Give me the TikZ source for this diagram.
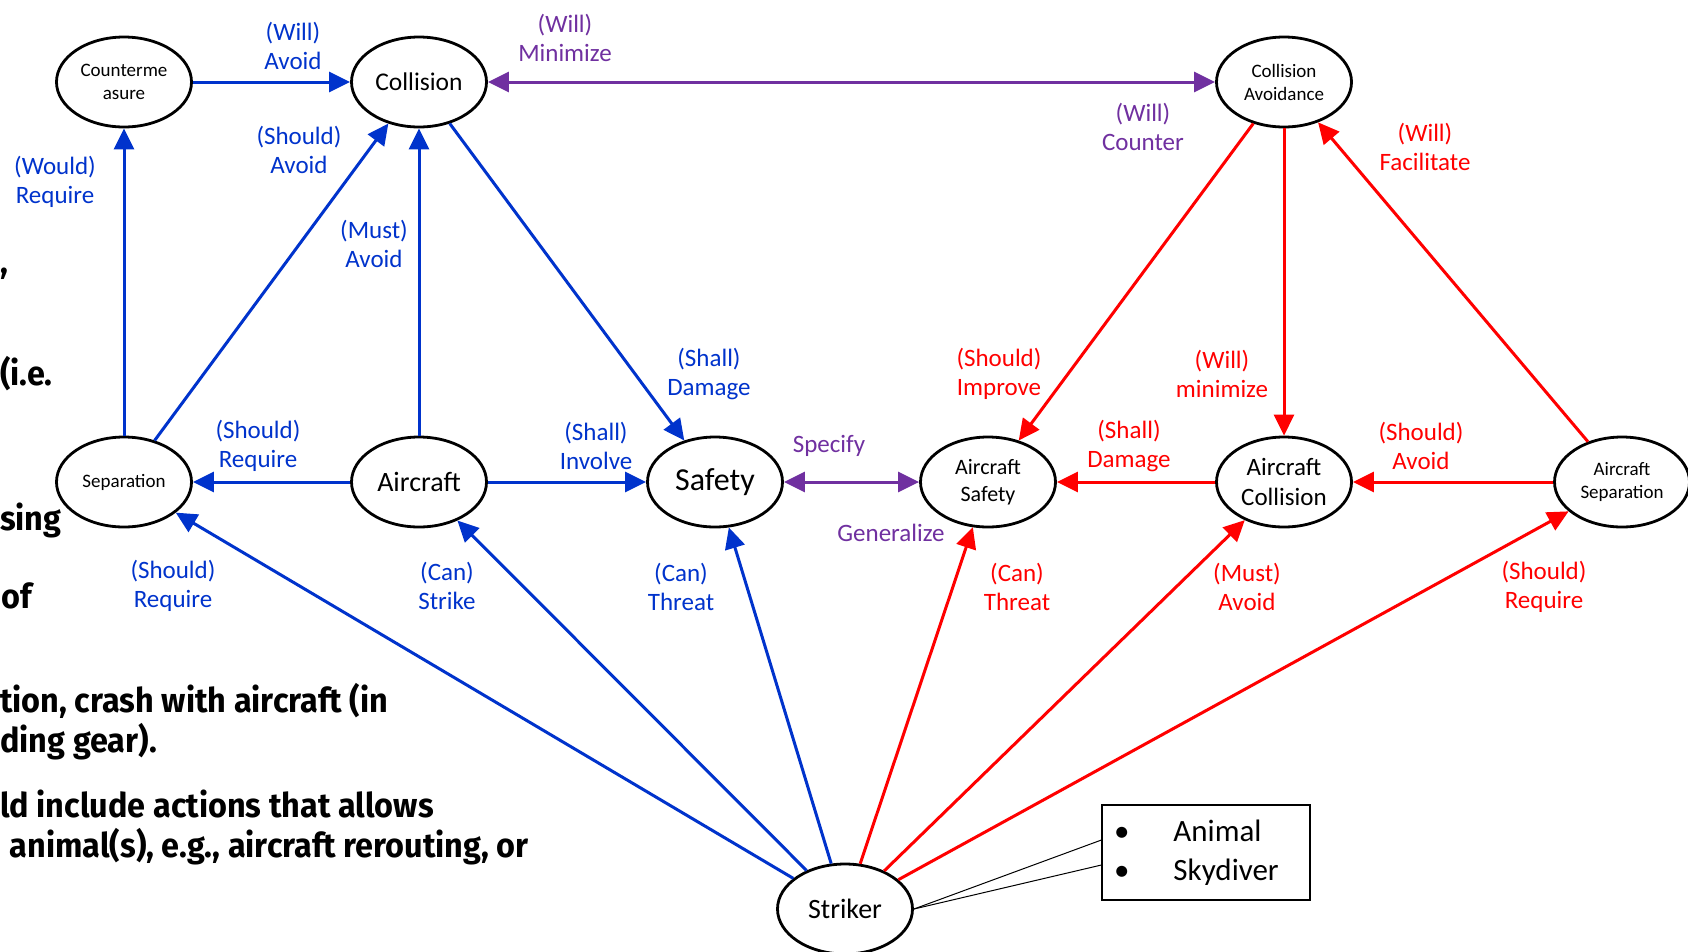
\documentclass[tikz,border=0pt]{standalone}
\usepackage{fontspec}
\setmainfont{Carlito}
\newfontfamily\bgfont{Fira Sans}
\usetikzlibrary{arrows.meta,shapes.geometric}
\definecolor{eblue}{RGB}{0,51,204}
\definecolor{ered}{RGB}{255,0,0}
\definecolor{epurple}{RGB}{112,48,160}
\newsavebox\bgbox
\newlength\bglen
\newcommand\bgsel{\bgfont\bfseries\fontsize{34}{40}\selectfont}
\AtBeginDocument{%
  \sbox\bgbox{\bgsel tion, crash with aircraft (in}%
  \setlength\bglen{\wd\bgbox}%
  \pgfmathsetmacro\bgsx{388/\bglen}%
}
\begin{document}
\begin{tikzpicture}[x=1pt,y=-1pt,
  ent/.style={ellipse, draw=black, line width=2.8pt, minimum width=135pt, minimum height=90pt, inner sep=0pt, align=center, text=black},
  tipa/.tip={Triangle[length=21pt,width=20pt]},
  bl/.style={draw=eblue, line width=3pt, -tipa},
  rd/.style={draw=ered, line width=3pt, -tipa},
  pu/.style={draw=epurple, line width=3pt, tipa-tipa},
  lbl/.style={font=\fontsize{25}{29.5}\selectfont, align=center, inner sep=0pt},
  lblb/.style={lbl, text=eblue},
  lblr/.style={lbl, text=ered},
  lblp/.style={lbl, text=epurple},
  bgtxt/.style={font=\bgsel, inner sep=0pt, text=black}
]
\fill[white] (0,0) rectangle (1688,951);
\useasboundingbox (0,0) rectangle (1688,951);

% background fragments of slide text
\node[bgtxt, anchor=base west] (t1) at (0,273) {\scalebox{\bgsx}[1]{,}};
\node[bgtxt, anchor=base west] (t2) at (0,385) {\scalebox{\bgsx}[1]{(i.e.}};
\node[bgtxt, anchor=base west] (t3) at (0,530) {\scalebox{\bgsx}[1]{sing}};
\node[bgtxt, anchor=base west] (t4) at (1,608) {\scalebox{\bgsx}[1]{of}};
\node[bgtxt, anchor=base west] (t5) at (0,712) {\scalebox{\bgsx}[1]{tion, crash with aircraft (in}};
\node[bgtxt, anchor=base west] (t6) at (0,752) {\scalebox{\bgsx}[1]{ding gear).}};
\node[bgtxt, anchor=base west] (t7) at (0,817) {\scalebox{\bgsx}[1]{ld include actions that allows}};
\node[bgtxt, anchor=base east] (t8) at (529,857) {\scalebox{\bgsx}[1]{animal(s), e.g., aircraft rerouting, or}};

% entities
\node[ent, font=\fontsize{19}{23}\selectfont] (cm) at (124,82) {Counterme\\asure};
\node[ent, font=\fontsize{25.5}{30}\selectfont] (col) at (419,82) {Collision};
\node[ent, font=\fontsize{19}{23}\selectfont] (ca) at (1284,82) {Collision\\Avoidance};
\node[ent, font=\fontsize{19}{23}\selectfont] (sep) at (124,482) {Separation};
\node[ent, font=\fontsize{28}{33}\selectfont] (ac) at (419,482) {Aircraft};
\node[ent, font=\fontsize{32}{38}\selectfont] (saf) at (715,482) {Safety};
\node[ent, font=\fontsize{22}{26.5}\selectfont] (as) at (988,482) {Aircraft\\Safety};
\node[ent, font=\fontsize{25}{30}\selectfont] (acol) at (1284,482) {Aircraft\\Collision};
\node[ent, font=\fontsize{19}{23}\selectfont] (asep) at (1622,482) {Aircraft\\Separation};
\node[ent, font=\fontsize{28}{33}\selectfont] (str) at (845,909) {Striker};

% legend box
\node[draw=black, line width=1.2pt, minimum width=208pt, minimum height=95pt, text width=184pt, inner xsep=12pt, align=left, font=\fontsize{31}{39}\selectfont] (legend) at (1206,852.5) {\textbullet\hspace{44pt}Animal\\\textbullet\hspace{44pt}Skydiver};
\draw[black, line width=1pt] (str.east) -- ([yshift=12.5pt]legend.west);
\draw[black, line width=1pt] (str.east) -- ([yshift=-12.5pt]legend.west);

% blue connectors
\draw[bl] (cm) -- (col);
\draw[bl] (sep) -- (cm);
\draw[bl] (sep) -- (col);
\draw[bl] (ac) -- (col);
\draw[bl] (col) -- (saf);
\draw[bl] (ac) -- (sep);
\draw[bl] (ac) -- (saf);
\draw[bl] (str) -- (sep);
\draw[bl] (str) -- (ac);
\draw[bl] (str) -- (saf);
% purple connectors
\draw[pu] (col) -- (ca);
\draw[pu] (saf) -- (as);
% red connectors
\draw[rd] (ca) -- (as);
\draw[rd] (ca) -- (acol);
\draw[rd] (asep) -- (ca);
\draw[rd] (acol) -- (as);
\draw[rd] (asep) -- (acol);
\draw[rd] (str) -- (as);
\draw[rd] (str) -- (acol);
\draw[rd] (str) -- (asep);

% labels
\node[lblb] (l1) at (293,46) {(Will)\\Avoid};
\node[lblb] (l2) at (55,182) {(Would)\\Require};
\node[lblb] (l3) at (299,150) {(Should)\\Avoid};
\node[lblb] (l4) at (374,244) {(Must)\\Avoid};
\node[lblb] (l5) at (709,374) {(Shall)\\Damage};
\node[lblb] (l6) at (258,446) {(Should)\\Require};
\node[lblb] (l7) at (596,446) {(Shall)\\Involve};
\node[lblb] (l8) at (173,586) {(Should)\\Require};
\node[lblb] (l9) at (447,586) {(Can)\\Strike};
\node[lblb] (l10) at (681,587) {(Can)\\Threat};
\node[lblp] (l11) at (565,38) {(Will)\\Minimize};
\node[lblp] (l12) at (1143,127) {(Will)\\Counter};
\node[lblp] (l13) at (829,446) {Specify};
\node[lblp] (l14) at (891,533) {Generalize};
\node[lblr] (l15) at (999,374) {(Should)\\Improve};
\node[lblr] (l16) at (1222,374) {(Will)\\minimize};
\node[lblr] (l17) at (1425,147) {(Will)\\Facilitate};
\node[lblr] (l18) at (1129,446) {(Shall)\\Damage};
\node[lblr] (l19) at (1421,446) {(Should)\\Avoid};
\node[lblr] (l20) at (1017,587) {(Can)\\Threat};
\node[lblr] (l21) at (1247,587) {(Must)\\Avoid};
\node[lblr] (l22) at (1544,587) {(Should)\\Require};
\end{tikzpicture}
\end{document}
